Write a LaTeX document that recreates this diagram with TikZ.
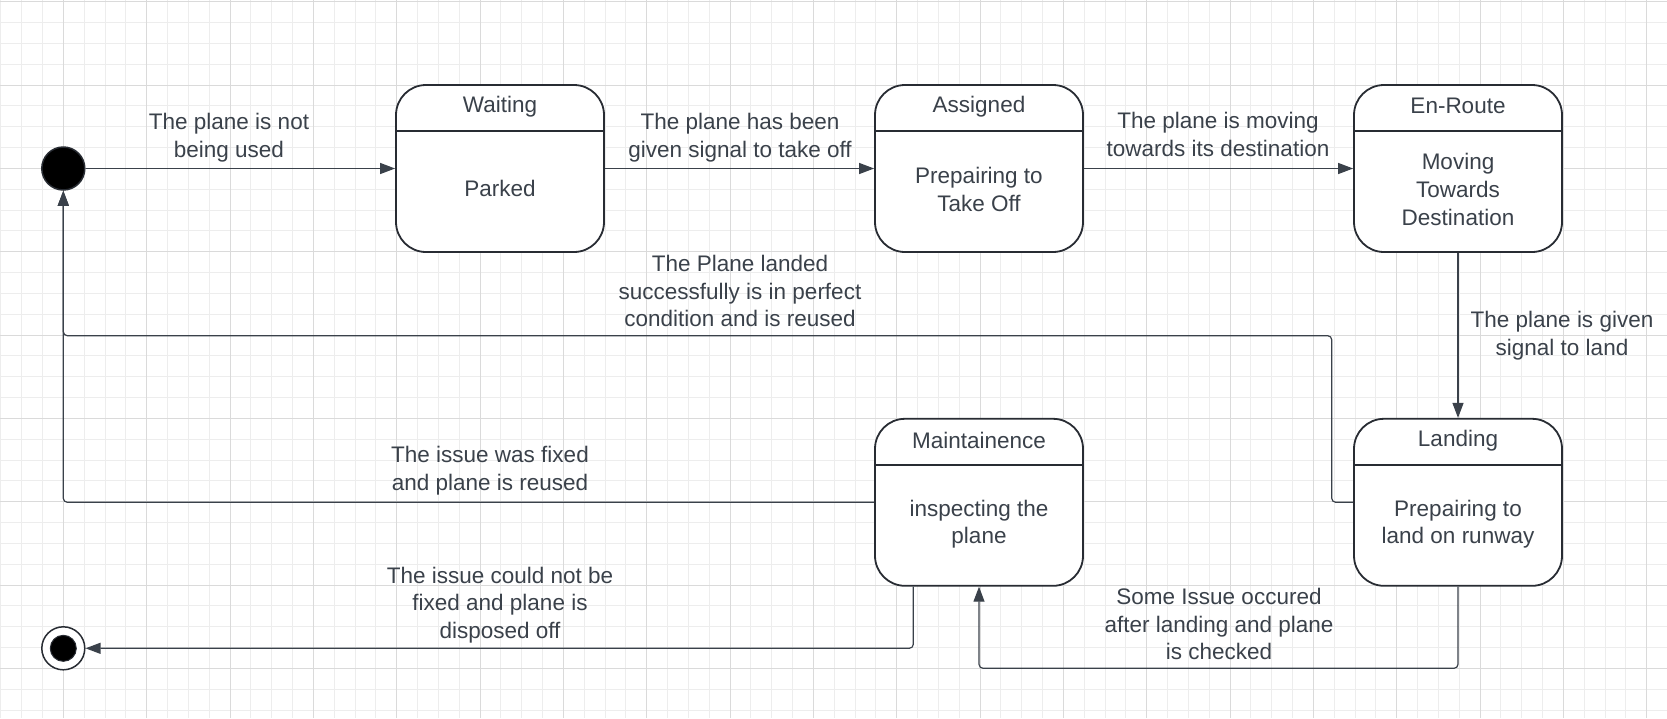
\documentclass[tikz,border=0pt]{standalone}
\usepackage{fontspec}
\setmainfont{Liberation Sans}
\usetikzlibrary{arrows.meta,positioning}

\definecolor{inkgray}{HTML}{3A414A}
\definecolor{boxline}{HTML}{282C33}
\definecolor{minorgrid}{HTML}{EDEDED}
\definecolor{majorgrid}{HTML}{DADADA}

\begin{document}
\begin{tikzpicture}[x=1pt, y=-1pt,
  statebox/.style={draw=boxline, line width=1.8pt, rounded corners=30pt, fill=white,
    minimum width=208pt, minimum height=167pt, inner sep=0pt},
  txt/.style={text=inkgray, align=center, inner sep=0pt,
    font=\fontsize{22.5}{27.7}\selectfont},
  conn/.style={draw=inkgray, line width=1.2pt, rounded corners=4pt,
    -{Triangle[length=15pt,width=11pt]}}]

\useasboundingbox (0,0) rectangle (1667,718);

% Background grid
\foreach \i in {0,...,80}
  \draw[minorgrid, line width=0.8pt] (0.8+20.833*\i,0) -- (0.8+20.833*\i,718);
\foreach \j in {0,...,34}
  \draw[minorgrid, line width=0.8pt] (0,1.7+20.833*\j) -- (1667,1.7+20.833*\j);
\foreach \i in {0,...,19}
  \draw[majorgrid, line width=0.9pt] (63.3+83.333*\i,0) -- (63.3+83.333*\i,718);
\foreach \j in {0,...,8}
  \draw[majorgrid, line width=0.9pt] (0,1.7+83.333*\j) -- (1667,1.7+83.333*\j);

% Initial and final states
\node[circle, fill=black, draw=boxline, line width=1.5pt, minimum size=43pt, inner sep=0pt] (start) at (63.3,168.5) {};
\node[circle, fill=white, draw=boxline, line width=1.5pt, minimum size=43pt, inner sep=0pt] (end) at (63.3,648.3) {};
\node[circle, fill=black, draw=boxline, line width=1pt, minimum size=26pt, inner sep=0pt] at (end) {};

% States
\node[statebox] (waiting) at (500,168.5) {};
\node[statebox] (assigned) at (979,168.5) {};
\node[statebox] (enroute) at (1458,168.5) {};
\node[statebox] (maint) at (979,502.3) {};
\node[statebox] (landing) at (1458,502.3) {};

% State compartments
\foreach \s in {waiting,assigned,enroute,maint,landing}
  \draw[boxline, line width=1.8pt] ([yshift=-46.7pt]\s.north west) -- ([yshift=-46.7pt]\s.north east);

\node[txt, below=23pt of waiting.north, anchor=center] (waittitle) {Waiting};
\node[txt, below=23pt of assigned.north, anchor=center] (assigntitle) {Assigned};
\node[txt, below=22pt of enroute.north, anchor=center] (enroutetitle) {En-Route};
\node[txt, below=22.5pt of maint.north, anchor=center] (mainttitle) {Maintainence};
\node[txt, below=23pt of landing.north, anchor=center] (landtitle) {Landing};

\node[txt, below=20pt of waiting.center, anchor=center] (waitbody) {Parked};
\node[txt, below=21pt of assigned.center, anchor=center] (assignbody) {Prepairing to\\Take Off};
\node[txt, below=21pt of enroute.center, anchor=center] (enroutebody) {Moving\\Towards\\Destination};
\node[txt, below=22pt of maint.center, anchor=center] (maintbody) {inspecting the\\plane};
\node[txt, below=22pt of landing.center, anchor=center] (landbody) {Prepairing to\\land on runway};

% Bend points
\coordinate (lowrow) at (0,668.3);
\coordinate (reuse) at (1331.7,335.7);

% Transitions
\draw[conn] (start) -- (waiting);
\draw[conn] (waiting) -- (assigned);
\draw[conn] (assigned) -- (enroute);
\draw[conn] (enroute) -- (landing);
\draw[conn] (landing.south) -- (landing.south |- lowrow) -| (maint.south);
\draw[conn] ([xshift=-65.7pt]maint.south) |- (end);
\draw[conn] (maint.west) -| (start);
\draw[conn] (landing.west) -| (reuse) -| (start);

% Transition labels
\node[txt] (lblunused) at (229,137.5) {The plane is not\\being used};
\node[txt] (lbltakeoff) at (740,137.5) {The plane has been\\given signal to take off};
\node[txt] (lblmoving) at (1218,134.5) {The plane is moving\\towards its destination};
\node[txt] (lblreused) at (740,291) {The Plane landed\\successfully is in perfect\\condition and is reused};
\node[txt] (lblland) at (1562,336) {The plane is given\\signal to land};
\node[txt] (lblfixed) at (490,471) {The issue was fixed\\and plane is reused};
\node[txt] (lbldisposed) at (500,605) {The issue could not be\\fixed and plane is\\disposed off};
\node[txt] (lblchecked) at (1219,624) {Some Issue occured\\after landing and plane\\is checked};

\end{tikzpicture}
\end{document}
